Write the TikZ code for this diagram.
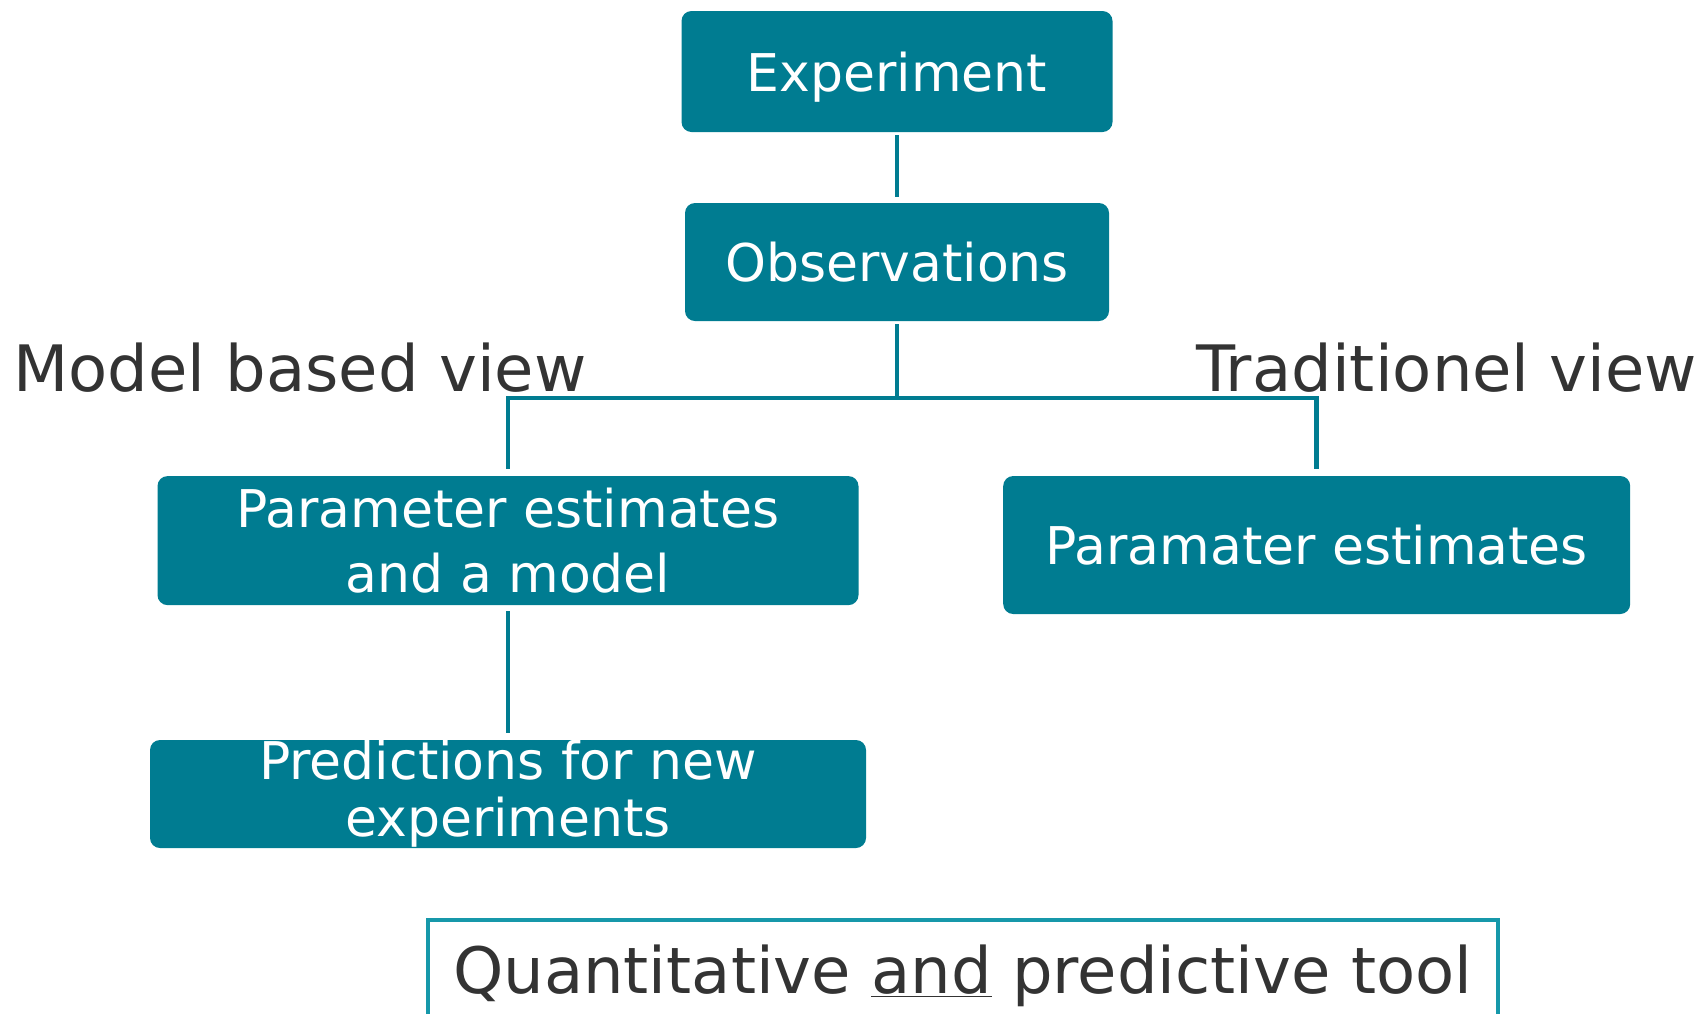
\documentclass[tikz,border=0pt]{standalone}
\usepackage{fontspec}
\setmainfont{DejaVu Sans}
\definecolor{boxteal}{RGB}{0,124,145}
\definecolor{frameteal}{RGB}{22,152,170}
\definecolor{txtgrey}{RGB}{51,51,51}

\begin{document}
\begin{tikzpicture}[x=1pt,y=-1pt,
  box/.style={rectangle, rounded corners=10pt, fill=boxteal, text=white,
    font=\fontsize{52}{64}\selectfont, align=center, inner sep=0pt},
  link/.style={draw=boxteal, line width=4.5pt},
  caption/.style={text=txtgrey, font=\fontsize{64}{76}\selectfont, inner sep=0pt}]

\useasboundingbox (0,0) rectangle (1704,1013);
\clip (0,0) rectangle (1704,1013);

% flow boxes
\node[box, minimum width=431pt, minimum height=121pt, text depth=0pt] (exp) at (897,71.5) {Experiment};
\node[box, minimum width=424pt, minimum height=118pt] (obs) at (897,262) {Observations};
\node[box, minimum width=701pt, minimum height=129pt] (pam) at (508,540.6) {Parameter estimates\\and a model};
\node[box, minimum width=627pt, minimum height=138pt] (pat) at (1316.7,545) {Paramater estimates};
\node[box, minimum width=716pt, minimum height=108pt, font=\fontsize{52}{57}\selectfont] (pred) at (508,794) {Predictions for new\\experiments};

% side headings
\node[caption, anchor=base west] (mbv) at (13,391) {Model based view};
\node[caption, anchor=base east] (tv) at (1697.5,391) {Traditionel view};

% framed conclusion
\node[caption, draw=frameteal, line width=4pt, minimum width=1069.5pt, minimum height=112pt, anchor=north] (qpt) at (962.75,918) {Quantitative \underline{and} predictive tool};

% connectors
\coordinate (bus) at (897,398);
\draw[link, shorten <=3pt, shorten >=6pt] (exp.south) -- (obs.north);
\draw[link, shorten <=3pt] (obs.south) -- (bus);
\draw[link, shorten <=7pt, shorten >=7pt] (pam.north) |- (bus) -| (pat.north);
\draw[link, shorten <=6pt, shorten >=7pt] (pam.south) -- (pred.north);
\end{tikzpicture}
\end{document}
